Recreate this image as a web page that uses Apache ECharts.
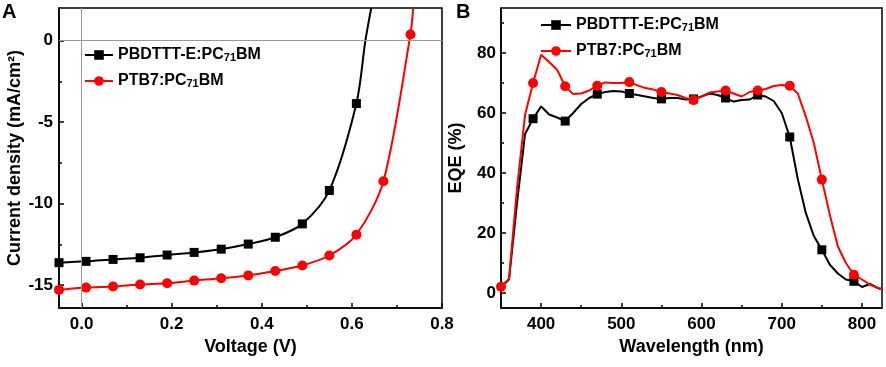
<!DOCTYPE html>
<html>
<head>
<meta charset="utf-8">
<script src="https://cdn.jsdelivr.net/npm/echarts@6/dist/echarts.min.js"></script>
<style>
  html, body { margin: 0; padding: 0; background: #fff; }
  #chart { width: 886px; height: 367px; }
</style>
</head>
<body>
<div id="chart"></div>
<script>
// --- panel A: J-V curves ---
const jvVoltage = [-0.05, 0.01, 0.07, 0.13, 0.19, 0.25, 0.31, 0.37, 0.43, 0.49, 0.55, 0.61, 0.67, 0.73];
const jvBlack = [-13.62, -13.54, -13.42, -13.32, -13.15, -12.99, -12.79, -12.48, -12.06, -11.24, -9.19, -3.86];
const jvRed = [-15.29, -15.15, -15.08, -14.96, -14.88, -14.72, -14.58, -14.40, -14.13, -13.79, -13.18, -11.90, -8.63, 0.38];
// curve continues past the last marker up to the top of the frame
const jvBlackTail = [[0.63, 0.0], [0.643, 2.0]];
const jvRedTail = [[0.736, 2.0]];

const vTicks = [0, 0.2, 0.4, 0.6, 0.8];
const vMinor = [0.1, 0.3, 0.5, 0.7];
const jTicks = [-15, -10, -5, 0];
const jMinor = [-12.5, -7.5, -2.5];

// --- panel B: EQE spectra ---
const wl = [350, 360, 370, 380, 390, 400, 410, 420, 430, 440, 450, 460, 470, 480, 490, 500, 510, 520, 530, 540,
  550, 560, 570, 580, 590, 600, 610, 620, 630, 640, 650, 660, 670, 680, 690, 700, 710, 720, 730, 740,
  750, 760, 770, 780, 790, 800, 810, 820, 825];
const eqeBlack = [2.0, 4.5, 30, 53, 58.1, 62.2, 59.5, 58.5, 57.3, 60, 63, 65, 66.3, 67, 67.3, 67.2, 66.5, 66, 65.5, 65,
  64.7, 65, 65, 64.5, 64.7, 65.5, 66.5, 66, 65.0, 63.8, 64.3, 64.5, 66.0, 65.5, 64, 60, 52.0, 38, 26.7, 19,
  14.4, 9.4, 6.5, 4.5, 3.9, 2.0, 3.0, 1.6, 1.3];
const eqeRed = [2.1, 4.7, 35, 59.4, 70.0, 79.4, 77, 74.4, 68.9, 66.3, 66.5, 67.5, 69.1, 70.2, 70, 70, 70.3, 69.2, 68.3, 67.8,
  67.0, 66.5, 66, 65, 64.3, 65.5, 66.8, 67.2, 67.5, 66.5, 65.5, 67, 67.5, 68, 69, 69.3, 69.1, 66.5, 58.9, 50,
  37.8, 26, 15.5, 10, 6.1, 4.5, 2.8, 1.6, 1.3];
const eqeMarkers = [390, 430, 470, 510, 550, 590, 630, 670, 710, 750, 790];
const eqeRedMarkers = [350].concat(eqeMarkers);

const wlTicks = [400, 500, 600, 700, 800];
const wlMinor = [450, 550, 650, 750];
const eqeTicks = [0, 20, 40, 60, 80];
const eqeMinor = [10, 30, 50, 70, 90];

const names = ['PBDTTT-E:PC71BM', 'PTB7:PC71BM'];

const font = 'Liberation Sans, Arial, sans-serif';
const black = '#000';
const red = '#ff0000';

function markerData(xs, ys, marked) {
  return ys.map((y, i) => ({
    value: [xs[i], y],
    symbol: marked.indexOf(xs[i]) >= 0 ? undefined : 'none'
  }));
}

const jvBlackData = jvBlack.map((y, i) => [jvVoltage[i], y]).concat(
  jvBlackTail.map(p => ({ value: p, symbol: 'none' })));
const jvRedData = jvRed.map((y, i) => [jvVoltage[i], y]).concat(
  jvRedTail.map(p => ({ value: p, symbol: 'none' })));

function mainX(grid, min, max, ticks, name, nameGap) {
  return {
    gridIndex: grid, type: 'value', min: min, max: max, position: 'bottom',
    name: name, nameLocation: 'middle', nameGap: nameGap,
    nameTextStyle: { fontFamily: font, fontWeight: 'bold', fontSize: 18, color: black },
    axisLine: { onZero: false, lineStyle: { color: black, width: 1.5 } },
    axisTick: { inside: true, length: 5, customValues: ticks, lineStyle: { color: black, width: 1.5 } },
    axisLabel: { customValues: ticks, margin: 8, fontFamily: font, fontWeight: 'bold', fontSize: 17, color: black,
      formatter: v => grid === 0 ? v.toFixed(1) : String(v) },
    splitLine: { show: false }
  };
}
function minorX(grid, min, max, ticks) {
  return {
    gridIndex: grid, type: 'value', min: min, max: max, position: 'bottom',
    axisLine: { show: false, onZero: false },
    axisTick: { inside: true, length: 3, customValues: ticks, lineStyle: { color: black, width: 1.5 } },
    axisLabel: { show: false }, splitLine: { show: false }
  };
}
function mainY(grid, min, max, ticks, name, nameGap, margin) {
  return {
    gridIndex: grid, type: 'value', min: min, max: max, position: 'left',
    name: name, nameLocation: 'middle', nameGap: nameGap,
    nameTextStyle: { fontFamily: font, fontWeight: 'bold', fontSize: 18, color: black },
    axisLine: { show: true, onZero: false, lineStyle: { color: black, width: 1.5 } },
    axisTick: { show: true, inside: true, length: 5, customValues: ticks, lineStyle: { color: black, width: 1.5 } },
    axisLabel: { customValues: ticks, margin: margin, fontFamily: font, fontWeight: 'bold', fontSize: 17, color: black },
    splitLine: { show: false }
  };
}
function minorY(grid, min, max, ticks) {
  return {
    gridIndex: grid, type: 'value', min: min, max: max, position: 'left',
    axisLine: { show: false, onZero: false },
    axisTick: { show: true, inside: true, length: 3, customValues: ticks, lineStyle: { color: black, width: 1.5 } },
    axisLabel: { show: false }, splitLine: { show: false }
  };
}

const legendText = {
  fontFamily: font, fontWeight: 'bold', fontSize: 16, color: black,
  rich: {
    n: { fontFamily: font, fontWeight: 'bold', fontSize: 16, color: black },
    s: { fontFamily: font, fontWeight: 'bold', fontSize: 11, color: black, padding: [5, 0, 0, 0] }
  }
};
function legendFormatter(name) {
  const parts = name.split('71');
  return '{n|' + parts[0] + '}{s|71}{n|' + parts[1] + '}';
}

const chart = echarts.init(document.getElementById('chart'), null, { renderer: 'canvas' });

chart.setOption({
  animation: false,
  backgroundColor: '#fff',
  title: [
    { text: 'A', left: 2, top: 2, padding: 0, textStyle: { fontFamily: font, fontWeight: 'bold', fontSize: 20, color: black } },
    { text: 'B', left: 456, top: 2, padding: 0, textStyle: { fontFamily: font, fontWeight: 'bold', fontSize: 20, color: black } }
  ],
  legend: [
    { orient: 'vertical', left: 84, top: 47, padding: 0, itemWidth: 28, itemHeight: 12, itemGap: 10,
      data: names, textStyle: legendText, formatter: legendFormatter },
    { orient: 'vertical', left: 540, top: 17, padding: 0, itemWidth: 30, itemHeight: 12, itemGap: 10,
      data: names, textStyle: legendText, formatter: legendFormatter }
  ],
  grid: [
    { left: 59, right: 444, top: 8, bottom: 59, show: true, borderColor: black, borderWidth: 1.5 },
    { left: 501, right: 4, top: 8, bottom: 59, show: true, borderColor: black, borderWidth: 1.5 }
  ],
  xAxis: [
    mainX(0, -0.05, 0.8, vTicks, 'Voltage (V)', 29),
    minorX(0, -0.05, 0.8, vMinor),
    mainX(1, 350, 825, wlTicks, 'Wavelength (nm)', 29),
    minorX(1, 350, 825, wlMinor)
  ],
  yAxis: [
    mainY(0, -16.4, 2, jTicks, 'Current density (mA/cm\u00b2)', 33, 6),
    minorY(0, -16.4, 2, jMinor),
    mainY(1, -5, 95, eqeTicks, 'EQE (%)', 36, 5),
    minorY(1, -5, 95, eqeMinor)
  ],
  series: [
    {
      name: names[0], type: 'line', xAxisIndex: 0, yAxisIndex: 0, smooth: 0.3,
      symbol: 'rect', symbolSize: 9, showAllSymbol: true,
      lineStyle: { color: black, width: 2 }, itemStyle: { color: black },
      data: jvBlackData,
      markLine: {
        silent: true, symbol: 'none', label: { show: false },
        lineStyle: { color: '#999', type: 'solid', width: 1 },
        data: [{ yAxis: 0 }, { xAxis: 0 }]
      },
      z: 3
    },
    {
      name: names[1], type: 'line', xAxisIndex: 0, yAxisIndex: 0, smooth: 0.3,
      symbol: 'circle', symbolSize: 10, showAllSymbol: true,
      lineStyle: { color: red, width: 2 }, itemStyle: { color: red },
      data: jvRedData, z: 3
    },
    {
      name: names[0], type: 'line', xAxisIndex: 2, yAxisIndex: 2,
      symbol: 'rect', symbolSize: 9, showAllSymbol: true,
      lineStyle: { color: black, width: 2 }, itemStyle: { color: black },
      data: markerData(wl, eqeBlack, eqeMarkers), z: 3
    },
    {
      name: names[1], type: 'line', xAxisIndex: 2, yAxisIndex: 2,
      symbol: 'circle', symbolSize: 10, showAllSymbol: true,
      lineStyle: { color: red, width: 2 }, itemStyle: { color: red },
      data: markerData(wl, eqeRed, eqeRedMarkers), z: 4
    }
  ]
});
</script>
</body>
</html>
